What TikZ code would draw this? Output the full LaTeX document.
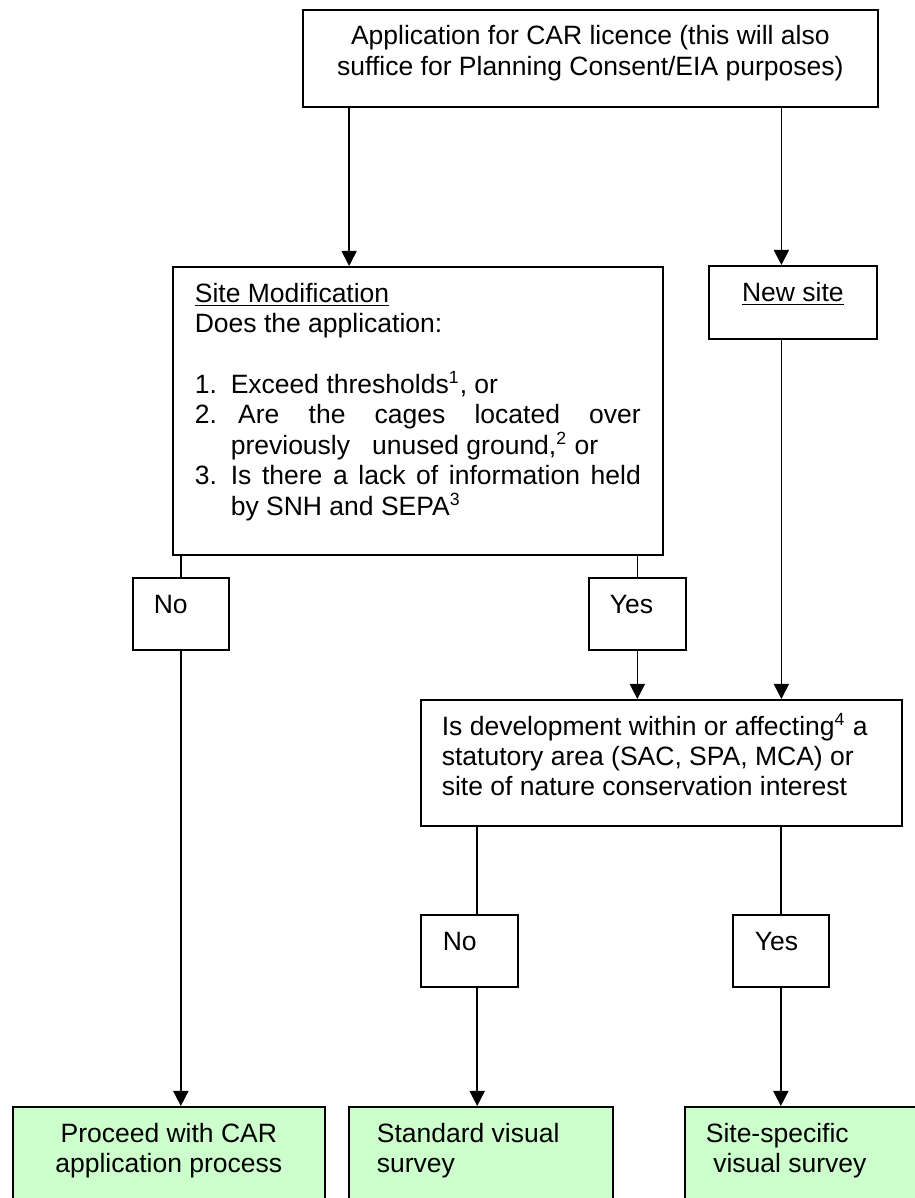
\documentclass[tikz,border=0pt]{standalone}
\usepackage{fontspec}
\setmainfont{Liberation Sans}
\usetikzlibrary{calc,positioning,arrows.meta}
\definecolor{endgreen}{HTML}{CCFFCC}
\newlength{\PxLen}
\setlength{\PxLen}{0.01591cm}
\newcommand*{\PxUnit}{0.01591cm}
\newcommand*{\ItemNo}[1]{\makebox[36\PxLen][l]{#1}}
\tikzset{
  box/.style={draw, inner sep=0pt, anchor=north west},
  endbox/.style={box, fill=endgreen},
  txt/.style={inner sep=0pt, anchor=base west, font=\fontsize{12}{13.8}\selectfont},
}

\begin{document}
\begin{tikzpicture}[x=\PxUnit, y=-\PxUnit, line width=0.75pt, >={Triangle[length=6.8pt,width=6.8pt]}]
  \useasboundingbox (0,0) rectangle (915,1198);
  \clip (0,0) rectangle (915,1198);

  % boxes
  \node[box, minimum width=575*\PxUnit, minimum height=97*\PxUnit] (app) at (302,9) {};
  \node[box, minimum width=490*\PxUnit, minimum height=288*\PxUnit] (sitemod) at (172,266) {};
  \node[box, minimum width=168*\PxUnit, minimum height=73*\PxUnit] (newsite) at (708,265) {};
  \node[box, minimum width=96*\PxUnit, minimum height=72*\PxUnit] (no1) at (132,577) {};
  \node[box, minimum width=97*\PxUnit, minimum height=72*\PxUnit] (yes1) at (588,577) {};
  \node[box, minimum width=481*\PxUnit, minimum height=126*\PxUnit] (isdev) at (420,699) {};
  \node[box, minimum width=97*\PxUnit, minimum height=72*\PxUnit] (no2) at (420,914) {};
  \node[box, minimum width=96*\PxUnit, minimum height=72*\PxUnit] (yes2) at (732,914) {};
  \node[endbox, minimum width=312*\PxUnit, minimum height=110*\PxUnit] (proceed) at (12,1106) {};
  \node[endbox, minimum width=264*\PxUnit, minimum height=110*\PxUnit] (standard) at (348,1106) {};
  \node[endbox, minimum width=260*\PxUnit, minimum height=110*\PxUnit] (sitespec) at (684,1106) {};

  % texts
  \node[txt, anchor=base] (app-txt) at ($(app.north)+(0,36)$)
    {\parbox[t]{560\PxLen}{\centering Application for CAR licence (this will also\\suffice for Planning Consent/EIA purposes)}};
  \node[txt] (sitemod-txt) at ($(sitemod.north west)+(22,36)$)
    {\parbox[t]{446\PxLen}{\hyphenpenalty=10000 \exhyphenpenalty=10000 \tolerance=10000
      \underline{Site Modification}\par
      Does the application:\par
      \mbox{}\par
      \hangindent=36\PxLen \hangafter=1 \ItemNo{1.}Exceed thresholds\textsuperscript{1}, or\par
      \hangindent=36\PxLen \hangafter=1 \ItemNo{2.}\hspace*{0.28em}Are the cages located over\linebreak previously\ \ \ unused ground,\textsuperscript{2} or\par
      \hangindent=36\PxLen \hangafter=1 \ItemNo{3.}Is there a lack of information held\linebreak by SNH and SEPA\textsuperscript{3}\par}};
  \node[txt, anchor=base] (newsite-txt) at ($(newsite.north)+(0,36)$) {\underline{New site}};
  \node[txt] (no1-txt) at ($(no1.north west)+(21,36)$) {No};
  \node[txt] (yes1-txt) at ($(yes1.north west)+(21,36)$) {Yes};
  \node[txt] (isdev-txt) at ($(isdev.north west)+(21,36)$)
    {\parbox[t]{445\PxLen}{\raggedright Is development within or affecting\textsuperscript{4} a\\statutory area (SAC, SPA, MCA) or\\site of nature conservation interest}};
  \node[txt] (no2-txt) at ($(no2.north west)+(22,36)$) {No};
  \node[txt] (yes2-txt) at ($(yes2.north west)+(22,36)$) {Yes};
  \node[txt, anchor=base] (proceed-txt) at ($(proceed.north)+(0,36)$)
    {\parbox[t]{300\PxLen}{\centering Proceed with CAR\\application process}};
  \node[txt] (standard-txt) at ($(standard.north west)+(28,36)$)
    {\parbox[t]{230\PxLen}{\raggedright Standard visual\\survey}};
  \node[txt] (sitespec-txt) at ($(sitespec.north west)+(21,36)$)
    {\parbox[t]{230\PxLen}{\raggedright Site-specific\\\hspace*{0.28em}visual survey}};

  % connectors
  \coordinate (appL) at ($(app.south west)!0.0817!(app.south east)$);
  \coordinate (appR) at ($(app.south west)!0.8313!(app.south east)$);
  \coordinate (devL) at ($(isdev.south west)!0.1185!(isdev.south east)$);
  \draw[->] (appL) -- (appL |- sitemod.north);
  \draw[->] (appR) -- (appR |- newsite.north);
  \draw (no1.north |- sitemod.south) -- (no1.north);
  \draw[->] (no1.south) -- (no1.south |- proceed.north);
  \draw (yes1.north |- sitemod.south) -- (yes1.north);
  \draw[->] (yes1.south) -- (yes1.south |- isdev.north);
  \draw[->] (appR |- newsite.south) -- (appR |- isdev.north);
  \draw (devL) -- (devL |- no2.north);
  \draw[->] (devL |- no2.south) -- (devL |- standard.north);
  \draw (yes2.north |- isdev.south) -- (yes2.north);
  \draw[->] (yes2.south) -- (yes2.south |- sitespec.north);
\end{tikzpicture}
\end{document}
